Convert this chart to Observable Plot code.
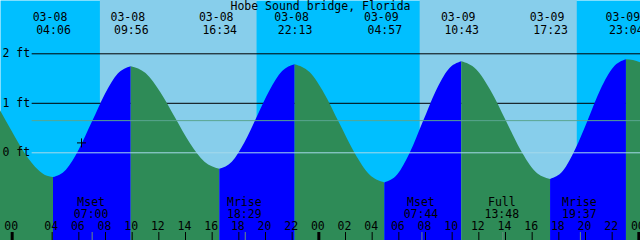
<!DOCTYPE html>
<html>
<head>
<meta charset="utf-8">
<script src="https://cdn.jsdelivr.net/npm/d3@7"></script>
<script src="https://cdn.jsdelivr.net/npm/@observablehq/plot@0.6"></script>
<style>
  html, body { margin: 0; padding: 0; background: #fff; }
  #chart svg { display: block; }
</style>
</head>
<body>
<div id="chart"></div>
<script>
// ---- data ----
const title = "Hobe Sound bridge, Florida";

// tide extremes (local time) and heights in ft
const tideTimes = ["03-08 04:06", "03-08 09:56", "03-08 16:34", "03-08 22:13",
                   "03-09 04:57", "03-09 10:43", "03-09 17:23", "03-09 23:04"];
const tideFt = [-0.50, 1.74, -0.33, 1.78, -0.61, 1.84, -0.54, 1.88];

// tide curve readings: elapsed hours since 03-08 00:00 and height in ft
const curveHours = [-0.875, 0, 1, 2, 2.5,
  3.1, 4.07, 5.04, 6.02, 6.99, 7.96, 8.93,
  10.04, 11.14, 12.25, 13.36, 14.46, 15.57,
  16.51, 17.45, 18.39, 19.33, 20.28, 21.22,
  22.34, 23.46, 24.58, 25.71, 26.83, 27.95,
  28.91, 29.87, 30.83, 31.79, 32.76, 33.72,
  34.83, 35.94, 37.05, 38.16, 39.27, 40.38,
  41.33, 42.28, 43.23, 44.17, 45.12, 46.07,
  46.6, 47.125];
const curveFt = [0.85, 0.43, -0.03, -0.36, -0.46,
  -0.50, -0.35, 0.06, 0.62, 1.18, 1.59, 1.74,
  1.60, 1.22, 0.705, 0.19, -0.19, -0.33,
  -0.19, 0.20, 0.725, 1.25, 1.64, 1.78,
  1.62, 1.18, 0.585, -0.01, -0.45, -0.61,
  -0.45, 0.00, 0.615, 1.23, 1.68, 1.84,
  1.68, 1.24, 0.65, 0.05, -0.39, -0.54,
  -0.38, 0.07, 0.67, 1.28, 1.72, 1.88,
  1.865, 1.82];

// sun
const sunriseTimes = ["03-08 07:37", "03-09 07:36"];
const sunsetTimes = ["03-08 19:22", "03-09 19:23"];

// moon
const moonNames = ["Mset", "Mrise", "Mset", "Full", "Mrise"];
const moonTimes = ["03-08 07:00", "03-08 18:29", "03-09 07:44", "03-09 13:48", "03-09 19:37"];

// hour tick labels (local)
const hourTicks = ["03-08 00", "03-08 04", "03-08 06", "03-08 08", "03-08 10", "03-08 12",
  "03-08 14", "03-08 16", "03-08 18", "03-08 20", "03-08 22",
  "03-09 00", "03-09 02", "03-09 04", "03-09 06", "03-09 08", "03-09 10", "03-09 12",
  "03-09 14", "03-09 16", "03-09 18", "03-09 20", "03-09 22", "03-10 00"];

// height levels
const gridFt = [1, 2];
const yLabels = [2, 1, 0];
const meanFt = 0.65;
const nowMarker = [{time: "03-08 06:12", ft: 0.2}];

// ---- helpers ----
// local "MM-DD HH:MM" -> elapsed hours since 03-08 00:00 (DST starts 03-08 02:00)
function toHours(s) {
  const day = +s.slice(3, 5), h = +s.slice(6, 8), m = s.length > 9 ? +s.slice(9, 11) : 0;
  const local = (day - 8) * 24 + h + m / 60;
  return local >= 3 ? local - 1 : local;
}

const pts = curveHours.map((h, i) => ({h, ft: curveFt[i]}));
const areaData = [];
let seg = -1, prevDir = null;
for (let i = 0; i < pts.length - 1; i++) {
  const dir = pts[i + 1].ft > pts[i].ft ? "rise" : "fall";
  if (dir !== prevDir) { seg++; prevDir = dir; areaData.push({...pts[i], seg, dir}); }
  areaData.push({...pts[i + 1], seg, dir});
}

const tides = tideTimes.map((t, i) => ({h: toHours(t), date: t.slice(0, 5), time: t.slice(6), ft: tideFt[i]}));
const days = sunriseTimes.map((t, i) => ({x1: toHours(t), x2: toHours(sunsetTimes[i])}));
const moons = moonNames.map((n, i) => ({name: n, h: toHours(moonTimes[i]), time: moonTimes[i].slice(6)}));
const ticks = hourTicks.map(t => ({h: toHours(t), label: t.slice(6), midnight: t.endsWith(" 00")}));
const now = nowMarker.map(d => ({h: toHours(d.time), ft: d.ft}));

const xDomain = [-0.875, 47.125];
const yDomain = [-1.7717, 3.0768];
const gridStart = 1.5;

const chart = Plot.plot({
  width: 640,
  height: 240,
  margin: 0,
  x: {domain: xDomain, axis: null},
  y: {domain: yDomain, axis: null},
  style: {font: "11.5px 'DejaVu Sans Mono', monospace", background: "transparent", color: "black"},
  marks: [
    Plot.frame({fill: "#00BFFF", stroke: null}),
    Plot.rectX(days, {x1: "x1", x2: "x2", y1: yDomain[0], y2: yDomain[1], fill: "#87CEEB"}),
    Plot.ruleY(gridFt, {x1: gridStart, x2: xDomain[1], stroke: "black", strokeWidth: 1}),
    Plot.areaY(areaData, {x: "h", y1: yDomain[0], y2: "ft", z: "seg",
      fill: d => d.dir === "rise" ? "#0000FF" : "#2E8B57", curve: "monotone-x"}),
    Plot.ruleY([0], {x1: gridStart, x2: xDomain[1], stroke: "#a6daec", strokeWidth: 1}),
    Plot.ruleY([meanFt], {x1: gridStart, x2: xDomain[1], stroke: "#5aa58f", strokeWidth: 1}),
    Plot.dot(now, {x: "h", y: "ft", symbol: "plus", r: 3, stroke: "black", strokeWidth: 1}),
    Plot.text([title], {frameAnchor: "top", dy: 5.5, lineAnchor: "middle", fill: "black"}),
    Plot.text(tides, {x: "h", text: "date", frameAnchor: "top", dy: 17, dx: -3.5, lineAnchor: "middle", fill: "black"}),
    Plot.text(tides, {x: "h", text: "time", frameAnchor: "top", dy: 29.5, lineAnchor: "middle", fill: "black"}),
    Plot.text(yLabels, {y: d => d, text: d => `${d} ft`, frameAnchor: "left", dx: 2, textAnchor: "start", fill: "black"}),
    Plot.text(moons, {x: "h", text: "name", frameAnchor: "bottom", dy: -38, dx: -1, lineAnchor: "middle", fill: "black"}),
    Plot.text(moons, {x: "h", text: "time", frameAnchor: "bottom", dy: -26.5, dx: -1, lineAnchor: "middle", fill: "black"}),
    Plot.text(ticks, {x: "h", text: "label", frameAnchor: "bottom", dy: -14, dx: -1, lineAnchor: "middle", fill: "black"}),
    Plot.tickX(moons, {x: "h", insetTop: 232, stroke: "#6b8e80", strokeWidth: 1}),
    Plot.tickX(ticks, {x: "h", insetTop: 232, stroke: "black", strokeWidth: d => d.midnight ? 3 : 1})
  ]
});
document.getElementById("chart").appendChild(chart);
</script>
</body>
</html>
